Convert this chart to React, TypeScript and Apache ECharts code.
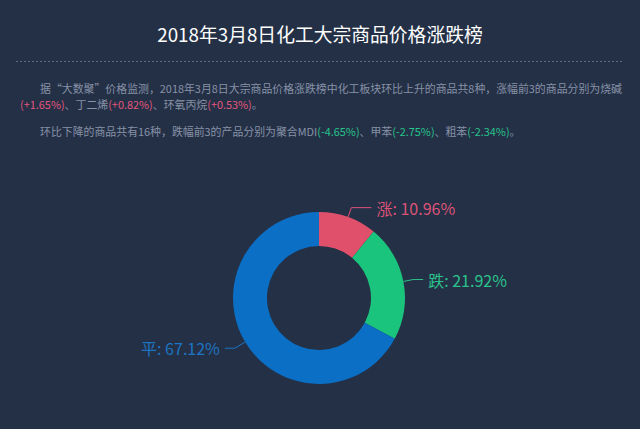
import React, { useEffect, useRef } from "react";
import * as echarts from "echarts";

const titleText = "2018年3月8日化工大宗商品价格涨跌榜";
const categories = ["涨", "跌", "平"];
const counts = [8, 16, 49];
const sliceColors = ["#e0506b", "#1bc47d", "#0b6fc6"];
const labelColors = ["#dc5377", "#2bc38c", "#1d74c2"];

const para1Line1 = "据“大数聚”价格监测，2018年3月8日大宗商品价格涨跌榜中化工板块环比上升的商品共8种，涨幅前3的商品分别为烧碱";
const upItems = ["丁二烯", "环氧丙烷"];
const upValues = ["(+1.65%)", "(+0.82%)", "(+0.53%)"];
const para2Lead = "环比下降的商品共有16种，跌幅前3的产品分别为聚合MDI";
const downItems = ["甲苯", "粗苯"];
const downValues = ["(-4.65%)", "(-2.75%)", "(-2.34%)"];

const FONT = "'Noto Sans CJK SC', 'Noto Sans', sans-serif";
const grayText = "#8792a6";
const redText = "#e2567c";
const greenText = "#25c48b";

export default function App() {
  const ref = useRef<HTMLDivElement>(null);
  useEffect(() => {
    if (!ref.current) return;
    const chart = echarts.init(ref.current, null, { renderer: "svg" });
    const fs = 10.9;
    const rich = {
      g: { fill: grayText, fontSize: fs, fontFamily: FONT },
      r: { fill: redText, fontSize: fs, fontFamily: FONT },
      n: { fill: greenText, fontSize: fs, fontFamily: FONT },
    } as any;
    const line2 = `{r|${upValues[0]}}{g|、${upItems[0]}}{r|${upValues[1]}}{g|、${upItems[1]}}{r|${upValues[2]}}{g|。}`;
    const line3 = `{g|${para2Lead}}{n|${downValues[0]}}{g|、${downItems[0]}}{n|${downValues[1]}}{g|、${downItems[1]}}{n|${downValues[2]}}{g|。}`;
    const lineLens = [
      { length: 10, length2: 20 },
      { length: 10, length2: 10 },
      { length: 12, length2: 10 },
    ];
    chart.setOption({
      animation: false,
      backgroundColor: "#243046",
      title: {
        text: titleText,
        left: "center",
        top: 19,
        textStyle: { color: "#ffffff", fontSize: 18.8, fontWeight: "normal", fontFamily: FONT },
      },
      graphic: [
        {
          type: "line",
          shape: { x1: 16, y1: 61.5, x2: 624, y2: 61.5 },
          style: { stroke: "#596a82", lineWidth: 1, lineDash: [2, 2] },
        },
        {
          type: "text",
          x: 40,
          y: 88,
          style: { text: `{g|${para1Line1}}`, rich, verticalAlign: "middle" },
        },
        {
          type: "text",
          x: 20,
          y: 104,
          style: { text: line2, rich, verticalAlign: "middle" },
        },
        {
          type: "text",
          x: 40,
          y: 131,
          style: { text: line3, rich, verticalAlign: "middle" },
        },
      ],
      series: [
        {
          type: "pie",
          center: [319, 298],
          radius: [52, 86],
          startAngle: 90,
          clockwise: true,
          avoidLabelOverlap: false,
          data: categories.map((c, i) => ({
            name: c,
            value: counts[i],
            itemStyle: { color: sliceColors[i] },
            label: { color: labelColors[i] },
            labelLine: { ...lineLens[i], lineStyle: { color: labelColors[i] } },
          })),
          label: {
            formatter: "{b}: {d}%",
            fontSize: 16,
            fontFamily: FONT,
          },
          labelLine: { length: 12, length2: 10, smooth: false },
        },
      ],
    });
    return () => chart.dispose();
  }, []);
  return (
    <div
      ref={ref}
      style={{ position: "fixed", left: 0, top: 0, width: 640, height: 429 }}
    />
  );
}
